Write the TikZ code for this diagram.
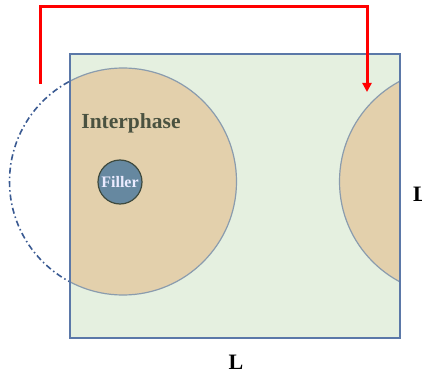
\documentclass[tikz,border=0pt]{standalone}
\usepackage{fontspec}
\setmainfont{Liberation Serif}
\usetikzlibrary{arrows.meta}
\definecolor{cellfill}{HTML}{E5F0E0}
\definecolor{cellline}{HTML}{5B78A8}
\definecolor{interfill}{HTML}{E3D0AC}
\definecolor{interline}{HTML}{8A9CAE}
\definecolor{fillerfill}{HTML}{6688A0}
\definecolor{fillerline}{HTML}{3E4A3E}
\definecolor{dashline}{HTML}{3A5A92}
\definecolor{labeltext}{HTML}{4A5240}
\definecolor{pbc}{HTML}{FF0000}
\tikzset{
  cellbox/.style={draw=cellline, line width=1.4pt, fill=cellfill},
  interphase/.style={fill=interfill, draw=interline, line width=1.2pt},
  ghost/.style={draw=dashline, line width=1.6pt, dash pattern=on 6pt off 3pt on 1.5pt off 3pt},
  fillernode/.style={circle, fill=fillerfill, draw=fillerline, line width=1.2pt, minimum size=44pt, inner sep=0pt, text=white!92!blue, font=\bfseries\fontsize{16}{16}\selectfont},
  biglabel/.style={font=\bfseries\fontsize{21.5}{21.5}\selectfont, text=labeltext, inner sep=0pt},
  dimlabel/.style={font=\bfseries\fontsize{22}{22}\selectfont, text=black, inner sep=0pt},
  pbcarrow/.style={draw=pbc, line width=3pt, -{Triangle[length=9pt,width=9pt]}},
}
\begin{document}
\begin{tikzpicture}[x=1pt,y=-1pt]
\useasboundingbox (0,0) rectangle (422,374);
% cell
\path[cellbox] (70,54) rectangle (400,338);
\begin{scope}
  \clip (70,54) rectangle (400,338);
  \path[interphase] (123,181.5) circle (113.5);
  \path[interphase] (453,181.5) circle (113.5);
\end{scope}
\begin{scope}
  \clip (0,0) rectangle (70,374);
  \path[ghost] (123,181.5) circle (113.5);
\end{scope}
\draw[draw=cellline, line width=1.4pt] (70,54) rectangle (400,338);
% labels
\node[biglabel] (inter) at (131,123) {Interphase};
\node[fillernode] (filler) at (120,182) {Filler};
\node[dimlabel] (lbot) at (236,362) {L};
\node[dimlabel, anchor=west] (lright) at (413,194) {L};
% periodic arrow
\coordinate (s) at (40,84);
\coordinate (t) at (40,7);
\coordinate (e) at (367,92);
\draw[pbcarrow] (s) -- (t) -- (t -| e) -- (e);
\end{tikzpicture}
\end{document}
